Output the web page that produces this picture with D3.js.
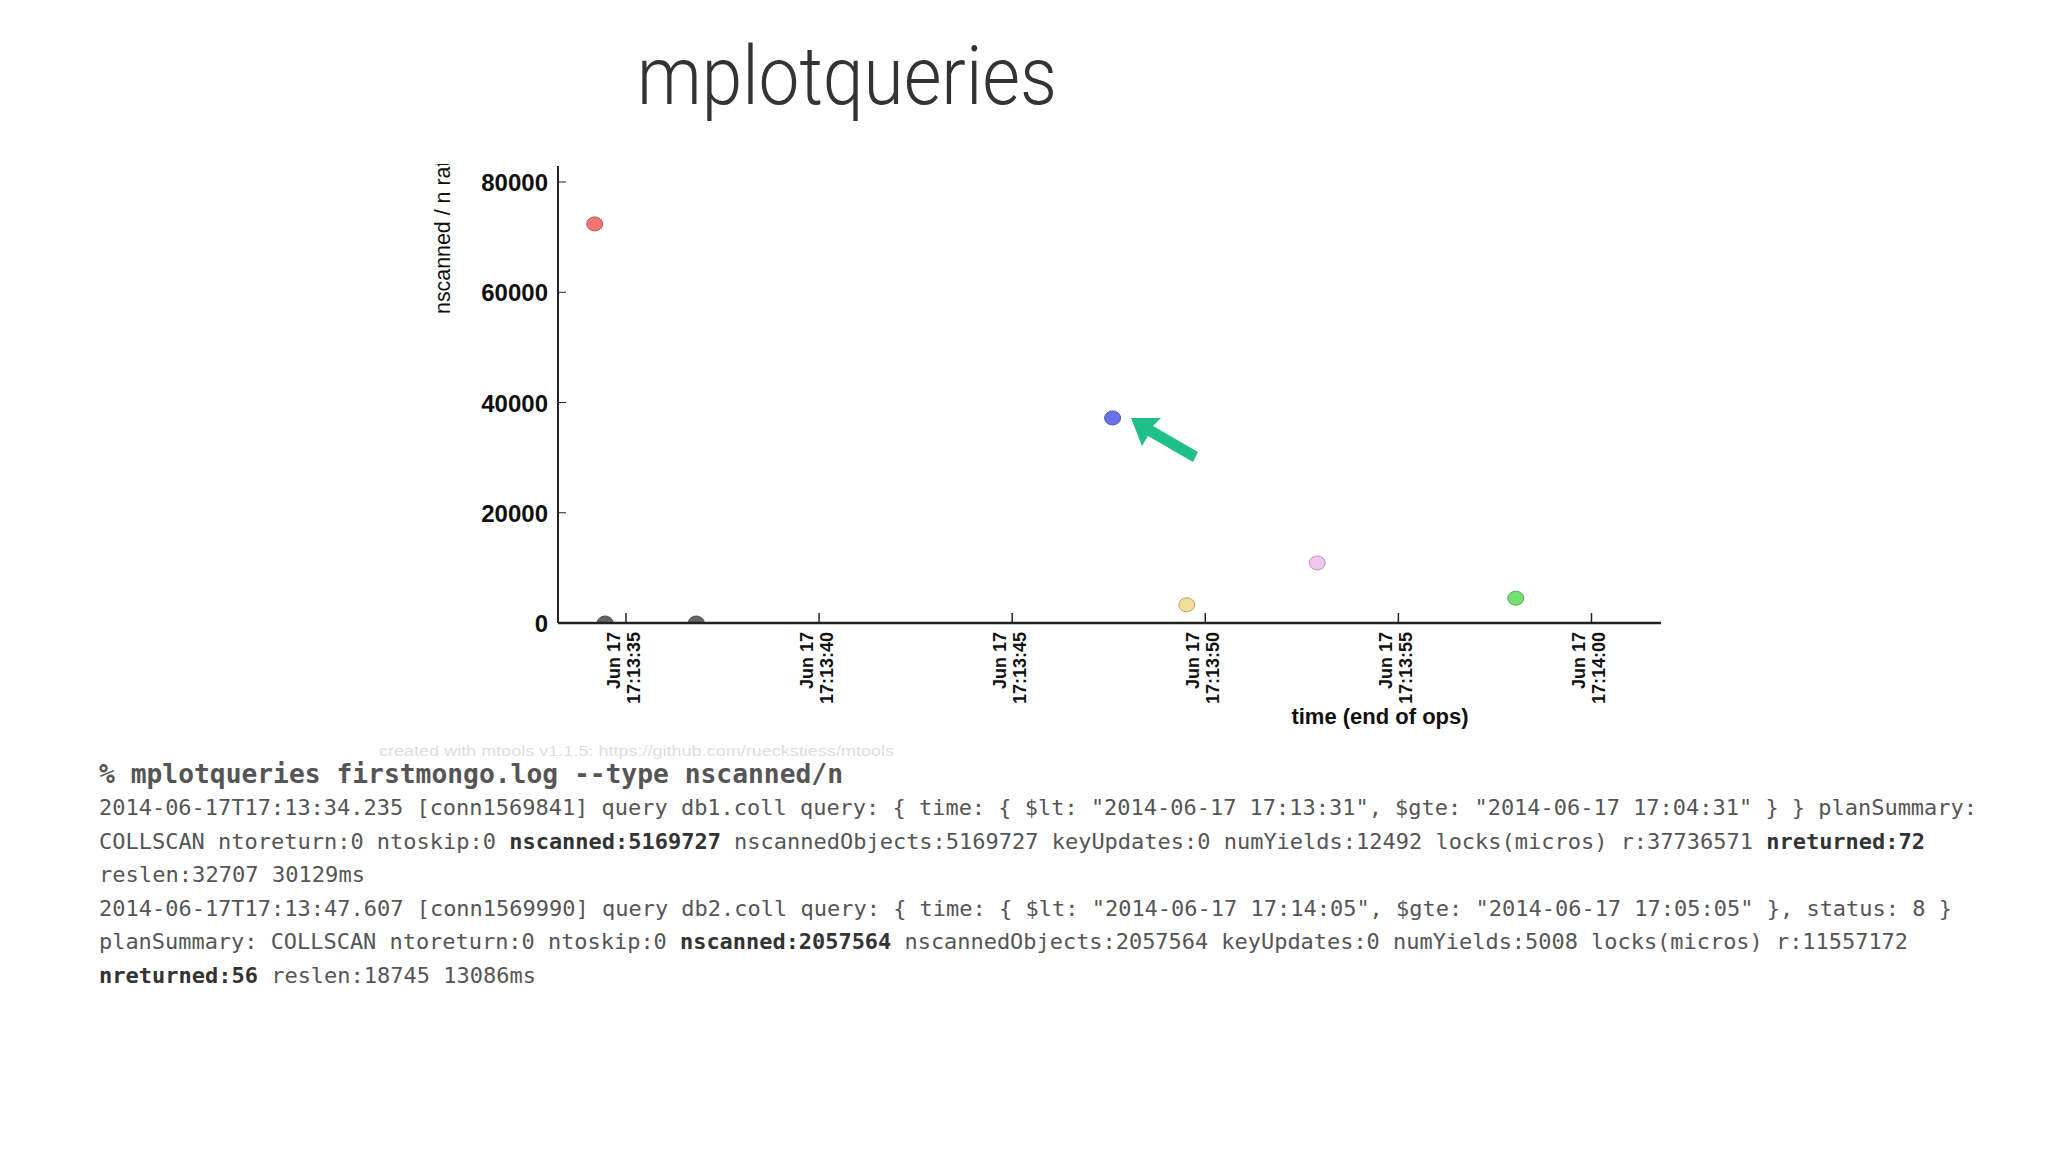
<!DOCTYPE html>
<html>
<head>
<meta charset="utf-8">
<script src="https://cdn.jsdelivr.net/npm/d3@7"></script>
<style>body{margin:0;background:#fff}</style>
</head>
<body>
<script>
// data (seconds after 17:13:00 on Jun 17 2014)
const times = [34.19, 34.46, 36.82, 47.6, 49.52, 52.9, 58.04];
const ratios = [72400, 0, 0, 37200, 3300, 10900, 4500];
const fills = ["#f07575", "#666", "#666", "#6872e8", "#f3dc98", "#f0c6f0", "#74e074"];
const yTicks = [0, 20000, 40000, 60000, 80000];
const xTickSecs = [35, 40, 45, 50, 55, 60];
const logLines = [
  [["2014-06-17T17:13:34.235 [conn1569841] query db1.coll query: { time: { $lt: \"2014-06-17 17:13:31\", $gte: \"2014-06-17 17:04:31\" } } planSummary:", 0]],
  [["COLLSCAN ntoreturn:0 ntoskip:0 ", 0], ["nscanned:5169727", 1], [" nscannedObjects:5169727 keyUpdates:0 numYields:12492 locks(micros) r:37736571 ", 0], ["nreturned:72", 1]],
  [["reslen:32707 30129ms", 0]],
  [["2014-06-17T17:13:47.607 [conn1569990] query db2.coll query: { time: { $lt: \"2014-06-17 17:14:05\", $gte: \"2014-06-17 17:05:05\" }, status: 8 }", 0]],
  [["planSummary: COLLSCAN ntoreturn:0 ntoskip:0 ", 0], ["nscanned:2057564", 1], [" nscannedObjects:2057564 keyUpdates:0 numYields:5008 locks(micros) r:11557172", 0]],
  [["nreturned:56", 1], [" reslen:18745 13086ms", 0]]
];
const lineWidths = [1878, 1826, 266, 1853, 1809, 437];

const t0 = new Date(2014, 5, 17, 17, 13, 0);
const at = s => new Date(t0.getTime() + s * 1000);

const svg = d3.select("body").append("svg").attr("width", 2048).attr("height", 1153);

svg.append("text").attr("x", 637).attr("y", 104)
  .attr("font-family", "Roboto").attr("font-weight", 300).attr("font-size", 82)
  .attr("fill", "#333").attr("textLength", 420).attr("lengthAdjust", "spacingAndGlyphs").text("mplotqueries");

const x = d3.scaleTime().domain([at(33.24), at(61.8)]).range([558, 1661]);
const y = d3.scaleLinear().domain([0, 80000]).range([623, 182]);

svg.append("defs").append("clipPath").attr("id", "pc")
  .append("rect").attr("x", 558).attr("y", 160).attr("width", 1110).attr("height", 463);

svg.append("g").attr("clip-path", "url(#pc)").selectAll("ellipse").data(times).join("ellipse")
  .attr("cx", d => x(at(d))).attr("cy", (d, i) => y(ratios[i]))
  .attr("rx", 8).attr("ry", 7)
  .attr("fill", (d, i) => fills[i]).attr("stroke", (d, i) => d3.color(fills[i]).darker(0.8)).attr("stroke-width", 1);

// axes
const ax = svg.append("g").attr("font-family", "Liberation Sans").attr("fill", "#111");
ax.append("line").attr("x1", 558).attr("x2", 558).attr("y1", 166).attr("y2", 623).attr("stroke", "#222").attr("stroke-width", 2);
ax.append("line").attr("x1", 558).attr("x2", 1661).attr("y1", 623).attr("y2", 623).attr("stroke", "#222").attr("stroke-width", 2.5);
yTicks.forEach(v => {
  ax.append("line").attr("x1", 558).attr("x2", 566).attr("y1", y(v)).attr("y2", y(v)).attr("stroke", "#222");
  ax.append("text").attr("x", 548).attr("y", y(v) + 9).attr("text-anchor", "end")
    .attr("font-size", 24).attr("font-weight", "bold").text(v);
});
const fmt = d3.timeFormat("%H:%M:%S");
xTickSecs.forEach(s => {
  const px = x(at(s));
  ax.append("line").attr("x1", px).attr("x2", px).attr("y1", 613).attr("y2", 623).attr("stroke", "#222").attr("stroke-width", 1.5);
  const t = ax.append("text").attr("transform", `translate(${px},632) rotate(-90)`)
    .attr("text-anchor", "end").attr("font-size", 18).attr("font-weight", "bold")
    .attr("textLength", null);
  t.append("tspan").attr("x", 0).attr("y", -6).text("Jun 17");
  t.append("tspan").attr("x", 0).attr("y", 14).text(fmt(at(s)));
});
ax.append("text").attr("x", 1380).attr("y", 724).attr("text-anchor", "middle")
  .attr("font-size", 22).attr("font-weight", "bold").text("time (end of ops)");
svg.append("defs").append("clipPath").attr("id", "yl")
  .append("rect").attr("x", 400).attr("y", 164).attr("width", 80).attr("height", 200);
ax.append("g").attr("clip-path", "url(#yl)").append("text")
  .attr("transform", "translate(450,164) rotate(-90)").attr("text-anchor", "start")
  .attr("x", -150).attr("font-size", 22).attr("textLength", 170).attr("lengthAdjust", "spacingAndGlyphs")
  .text("nscanned / n ratio");

// arrow
svg.append("polygon").attr("fill", "#1fbf8a")
  .attr("points", "1131,418 1161,418 1153,426 1198,452 1193,462 1148,436 1142,446");

svg.append("text").attr("x", 379).attr("y", 756).attr("font-family", "Liberation Sans")
  .attr("font-size", 15).attr("fill", "#ddd").attr("textLength", 515).attr("lengthAdjust", "spacingAndGlyphs")
  .text("created with mtools v1.1.5: https://github.com/rueckstiess/mtools");

svg.append("text").attr("x", 99).attr("y", 783).attr("font-family", "DejaVu Sans Mono")
  .attr("font-weight", "bold").attr("font-size", 27).attr("fill", "#555")
  .attr("textLength", 744).attr("lengthAdjust", "spacingAndGlyphs")
  .text("% mplotqueries firstmongo.log --type nscanned/n");

logLines.forEach((segs, i) => {
  const t = svg.append("text").attr("x", 99).attr("y", 815 + i * 33.6)
    .attr("font-family", "DejaVu Sans Mono").attr("font-size", 22).attr("fill", "#555")
    .attr("textLength", lineWidths[i]).attr("lengthAdjust", "spacingAndGlyphs");
  segs.forEach(([s, b]) => t.append("tspan").attr("font-weight", b ? "bold" : "normal").attr("fill", b ? "#333" : "#555").text(s));
});
</script>
</body>
</html>
